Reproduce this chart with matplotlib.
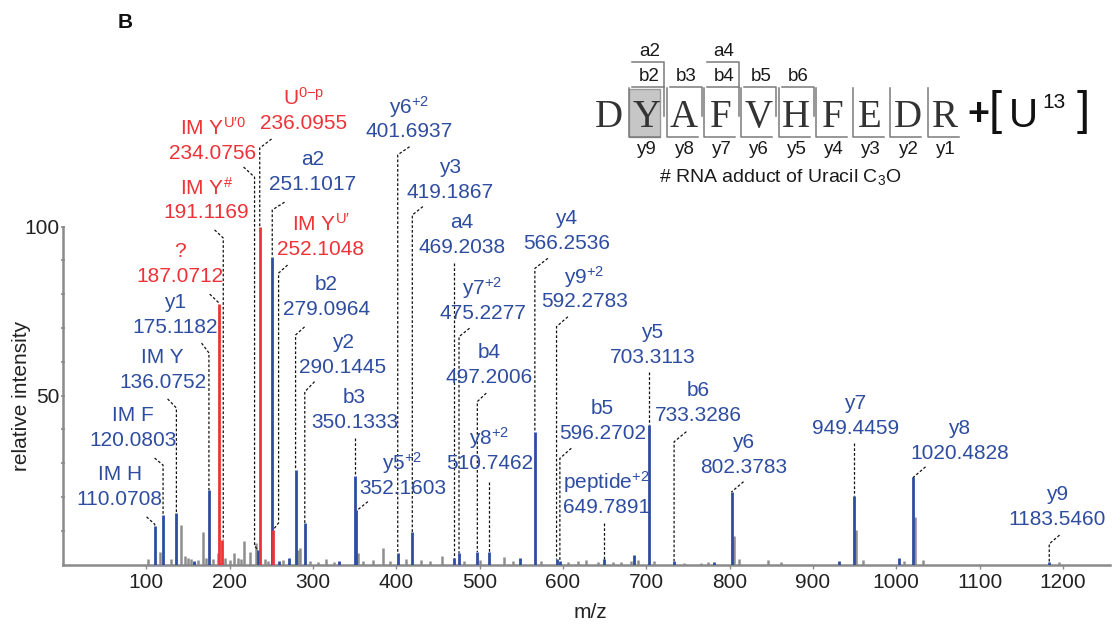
import matplotlib
matplotlib.use("Agg")
import matplotlib.pyplot as plt
from matplotlib.patches import Rectangle
from matplotlib.ticker import FixedLocator
from matplotlib.transforms import blended_transform_factory

plt.rcParams["font.family"] = ["Liberation Sans", "DejaVu Sans"]
plt.rcParams["mathtext.fontset"] = "custom"
plt.rcParams["mathtext.rm"] = "Liberation Sans"
plt.rcParams["mathtext.it"] = "Liberation Sans:italic"
plt.rcParams["mathtext.bf"] = "Liberation Sans:bold"
plt.rcParams["mathtext.default"] = "regular"

BLUE = "#2e4da0"
RED = "#ee3338"
GREY = "#8e8e8e"
AXIS = "#8a8a8a"
MARK = "#7a7a7a"

# ---------------- annotated ions ----------------
ion_names = ["IM H", "IM F", "IM Y", "y1", "?", r"IM Y$^{\#}$", r"IM Y$^{U′0}$",
             r"U$^{0{-}p}$", "a2", r"IM Y$^{U′}$", "b2", "y2", "b3", r"y5$^{+2}$",
             r"y6$^{+2}$", "y3", "a4", r"y7$^{+2}$", "b4", r"y8$^{+2}$", "y4",
             r"y9$^{+2}$", "b5", r"peptide$^{+2}$", "y5", "b6", "y6", "y7", "y8", "y9"]
ion_mz = [110.0708, 120.0803, 136.0752, 175.1182, 187.0712, 191.1169, 234.0756,
          236.0955, 251.1017, 252.1048, 279.0964, 290.1445, 350.1333, 352.1603,
          401.6937, 419.1867, 469.2038, 475.2277, 497.2006, 510.7462, 566.2536,
          592.2783, 596.2702, 649.7891, 703.3113, 733.3286, 802.3783, 949.4459,
          1020.4828, 1183.5460]
ion_intensity = [11.4, 14.6, 15.1, 22.0, 77.1, 7.2, 4.2, 100.0, 91.1, 10.2, 27.9,
                 12.3, 26.2, 16.0, 3.3, 9.5, 2.0, 3.3, 3.7, 3.7, 39.3, 1.5, 1.0,
                 1.7, 41.4, 1.0, 21.4, 20.4, 25.9, 0.8]
# 'p' = peptide fragment, 'n' = nucleotide-related
ion_class = ["p", "p", "p", "p", "n", "n", "n", "n", "p", "n", "p", "p", "p", "p",
             "p", "p", "p", "p", "p", "p", "p", "p", "p", "p", "p", "p", "p", "p",
             "p", "p"]
bar_class = ion_class[:6] + ["p"] + ion_class[7:]

# unlabelled matched peaks
matched_mz = [157.0, 259.0, 271.6, 331.6, 549.0, 685.6, 781.6, 931.6, 1003.6]
matched_intensity = [1.0, 1.0, 1.8, 0.9, 1.8, 2.7, 0.6, 1.0, 1.8]

# unassigned peaks
other_mz = [101.6, 116.8, 129.6, 141.5, 146.0, 150.0, 154.0, 162.0, 168.4, 172.0,
            180.0, 185.6, 195.0, 200.0, 205.6, 209.6, 214.0, 217.6, 224.7, 231.5,
            242.0, 246.0, 264.0, 281.6, 284.4, 297.0, 305.6, 315.6, 325.0, 353.6,
            360.0, 372.0, 383.6, 393.0, 411.6, 429.6, 441.0, 454.4, 481.6, 500.0,
            529.6, 540.0, 573.6, 605.6, 618.0, 627.6, 641.6, 660.0, 669.6, 681.6,
            689.6, 709.6, 745.6, 765.6, 773.6, 805.0, 811.6, 845.6, 861.6, 952.0,
            959.6, 1009.6, 1023.0, 1031.6, 1195.6]
other_intensity = [1.5, 3.8, 1.5, 11.6, 2.5, 2.0, 1.5, 1.2, 9.7, 2.0,
                   1.5, 3.5, 2.0, 1.2, 3.3, 2.0, 1.5, 7.0, 3.8, 6.5,
                   1.5, 1.0, 1.3, 4.3, 4.8, 1.0, 0.8, 1.5, 0.8, 3.3,
                   1.0, 1.2, 5.0, 1.0, 1.5, 1.2, 1.0, 2.4, 1.0, 1.2,
                   2.1, 1.0, 1.0, 0.8, 1.0, 1.2, 0.8, 0.6, 0.7, 1.0,
                   1.2, 1.0, 0.5, 0.5, 0.8, 8.5, 1.5, 1.3, 0.6, 10.2,
                   1.3, 1.0, 14.2, 1.3, 0.8]

# label placement: text x, text y, leader start x, start y, knee y, knee dx, tail
label_layout = [
    (67.9, 26.5, 100.3, 14.1, 11.9, 0, 0),
    (83.5, 44.2, 109.9, 31.5, 29.4, 0, 0),
    (119.5, 61.1, 125.5, 49.0, 46.3, 0, 0),
    (134.0, 77.4, 166.3, 65.5, 62.6, 0, 0),
    (140.0, 92.5, 176.0, 80.0, 77.4, 0, 0),
    (172.3, 111.4, 181.9, 99.0, 96.6, 1.2, 0),
    (179.5, 129.1, 216.7, 117.6, 114.6, -4.2, 1.3),
    (289.1, 138.0, 250.3, 125.9, 123.2, 0, 0),
    (299.5, 119.7, 265.9, 107.2, 104.9, 0, 0),
    (309.1, 100.7, 269.5, 88.6, 86.2, 6.6, 2.1),
    (316.3, 82.7, 289.9, 70.3, 67.9, 0, 0),
    (335.5, 65.8, 301.9, 54.1, 51.1, 0, 0),
    (349.9, 49.3, None, 37.4, None, 0, 0),
    (407.5, 30.0, 365.9, 18.6, 16.1, 1.0, 0),
    (415.9, 135.4, 415.9, 123.6, 121.2, 0, 0),
    (464.0, 117.6, 431.9, 105.9, 103.4, 0, 0),
    (478.3, 101.3, None, 89.1, None, 0, 0),
    (503.5, 81.8, 487.9, 69.9, 67.4, 0, 0),
    (511.9, 62.6, 508.0, 50.7, 48.2, 0, 0),
    (511.9, 37.4, None, 24.5, None, 0, 0),
    (604.3, 102.5, 581.9, 90.6, 87.6, 0, 0),
    (625.9, 85.1, 605.9, 73.3, 70.4, 0, 0),
    (647.5, 46.3, 610.0, 34.4, 31.4, 0, 0),
    (652.3, 24.4, None, 12.2, None, 0, 0),
    (707.5, 68.5, None, 57.0, None, 0, 0),
    (762.7, 51.6, 748.1, 39.3, 36.3, 0, 0),
    (816.7, 36.2, 816.7, 24.5, 21.5, 0, 0),
    (951.1, 47.5, None, 36.0, None, 0, 0),
    (1075.9, 40.1, 1035.1, 28.9, 25.8, 0, 0),
    (1193.5, 20.6, 1195.9, 8.7, 6.1, 0, 0),
]

x_ticks = [100, 200, 300, 400, 500, 600, 700, 800, 900, 1000, 1100, 1200]
y_ticks = [50, 100]
y_minor_ticks = [10, 20, 30, 40, 60, 70, 80, 90]

# peptide sequence map
residues = list("DYAFVHFEDR")
b_fragments = [2, 3, 4, 5, 6]
a_fragments = [2, 4]
y_fragments = [1, 2, 3, 4, 5, 6, 7, 8, 9]
adduct_site = 1

# ---------------- figure ----------------
W, H = 1120, 629
fig = plt.figure(figsize=(W / 100, H / 100), dpi=100)
base_px, left_px, right_px = 564.5, 63.0, 1110.0
px_per_mz, px_per_int = 0.8333, 3.38
ax = fig.add_axes([left_px / W, (H - base_px) / H, (right_px - left_px) / W, base_px / H])
ax.set_xlim(0, (right_px - left_px) / px_per_mz)
ax.set_ylim(0, base_px / px_per_int)

for side in ("top", "right"):
    ax.spines[side].set_visible(False)
for side in ("left", "bottom"):
    ax.spines[side].set_color(AXIS)
    ax.spines[side].set_linewidth(1.8)
ax.spines["left"].set_bounds(0, 100)

ax.xaxis.set_major_locator(FixedLocator(x_ticks))
ax.yaxis.set_major_locator(FixedLocator(y_ticks))
ax.yaxis.set_minor_locator(FixedLocator(y_minor_ticks))
ax.tick_params(axis="x", length=3, width=1, color=AXIS, labelsize=15,
               labelcolor="#222222", pad=3)
ax.tick_params(axis="y", which="both", length=3, width=1.2, color=AXIS,
               direction="inout", labelsize=15, labelcolor="#222222", pad=1)
ax.yaxis.set_minor_formatter(plt.NullFormatter())

# spectrum sticks
ax.vlines(other_mz, 0, other_intensity, color=GREY, lw=1.8, zorder=2)
ax.vlines(matched_mz, 0, matched_intensity, color=BLUE, lw=2.0, zorder=3)
for cls, col, z in (("p", BLUE, 3), ("n", RED, 4)):
    xs = [m for m, c in zip(ion_mz, bar_class) if c == cls]
    ys = [v for v, c in zip(ion_intensity, bar_class) if c == cls]
    ax.vlines(xs, 0, ys, color=col, lw=2.0, zorder=z)

# peak annotations with dashed leaders
line_gap = 25 / px_per_int
for name, mz, inten, cls, lay in zip(ion_names, ion_mz, ion_intensity, ion_class, label_layout):
    tx, ty, sx, sy, ky, kdx, tail = lay
    col = BLUE if cls == "p" else RED
    ax.text(tx, ty, name, color=col, fontsize=15, ha="center", va="center", zorder=6)
    ax.text(tx, ty - line_gap, f"{mz:.4f}", color=col, fontsize=15,
            ha="center", va="center", zorder=6)
    if sx is None:
        xs, ys = [mz, mz], [sy, inten]
    else:
        kx = mz + kdx
        xs, ys = [sx, kx, kx], [sy, ky, inten + tail]
        if tail:
            xs.append(mz)
            ys.append(inten)
    ax.plot(xs, ys, color="#111111", lw=0.9, ls=(0, (2.2, 1.6)), zorder=5)

trans = blended_transform_factory(ax.transAxes, ax.transData)
ax.text((22 - left_px) / (right_px - left_px), 50, "relative intensity", transform=trans,
        rotation=90, ha="center", va="center", fontsize=15, color="#222222")
ax.text((590 - left_px) / (right_px - left_px), -(612 - base_px) / base_px, "m/z",
        transform=ax.transAxes, ha="center", va="center", fontsize=15, color="#222222")

# ---------------- sequence coverage map ----------------
ov = fig.add_axes([0, 0, 1, 1], facecolor="none")
ov.set_xlim(0, W)
ov.set_ylim(H, 0)
ov.axis("off")

x0, step = 609.0, 37.3
cx = [x0 + step * i for i in range(len(residues))]
lft = [c - 17 for c in cx]
rgt = [c + 18 for c in cx]
y_top_a, y_top_b, y_bot = 62.0, 87.0, 136.5

ov.add_patch(Rectangle((lft[adduct_site], 89), 31, 47.5, fc="#c6c6c6", ec="#9a9a9a", lw=1))
for i, r in enumerate(residues):
    ov.text(cx[i], 127, r, fontsize=28, family="Liberation Serif", ha="center",
            va="baseline", color="#333333", zorder=4)
for n in y_fragments:
    i = len(residues) - n
    ov.plot([lft[i], lft[i], lft[i] + 31], [88, y_bot, y_bot], color=MARK, lw=1.1)
    ov.text(cx[i] + 1, 149, f"y{n}", ha="center", va="center", fontsize=13.5, color="#1a1a1a")
for n in b_fragments:
    i = n - 1
    ov.plot([lft[i] + 3, rgt[i], rgt[i]], [y_top_b, y_top_b, 116], color=MARK, lw=1.1)
    ov.text(cx[i] + 3, 76.5, f"b{n}", ha="center", va="center", fontsize=13.5, color="#1a1a1a")
for n in a_fragments:
    i = n - 1
    ov.plot([lft[i] + 3, rgt[i], rgt[i]], [y_top_a, y_top_a, y_top_b], color=MARK, lw=1.1)
    ov.text(cx[i] + 3, 51.5, f"a{n}", ha="center", va="center", fontsize=13.5, color="#1a1a1a")

ov.text(978, 124.5, "+", fontsize=27, fontweight="bold", ha="center", va="baseline", color="#111111")
ov.text(995, 124.5, "[", fontsize=34, ha="center", va="baseline", color="#111111")
ov.text(1023, 127, "U", fontsize=29, ha="center", va="baseline", color="#111111")
ov.text(1054, 108, "13", fontsize=15, ha="center", va="baseline", color="#111111")
ov.text(1083, 124.5, "]", fontsize=34, ha="center", va="baseline", color="#111111")
ov.text(780, 177, r"# RNA adduct of Uracil C$_3$O", fontsize=14, ha="center",
        va="center", color="#1a1a1a")

ov.text(125, 22, "B", fontsize=15, fontweight="bold", ha="center", va="center", color="#111111")

fig.savefig("out.png", dpi=100)
